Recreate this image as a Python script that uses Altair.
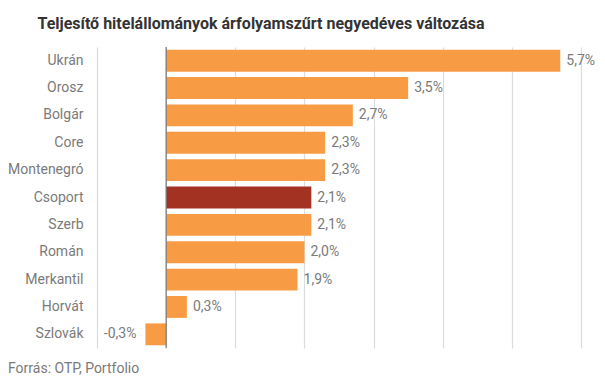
import altair as alt
import pandas as pd

categories = ["Ukrán", "Orosz", "Bolgár", "Core", "Montenegró", "Csoport",
              "Szerb", "Román", "Merkantil", "Horvát", "Szlovák"]
values = [5.7, 3.5, 2.7, 2.3, 2.3, 2.1, 2.1, 2.0, 1.9, 0.3, -0.3]
highlight = ["Csoport"]
grid_ticks = [-1, 0, 1, 2, 3, 4, 5, 6]

df = pd.DataFrame({"cat": categories, "v": values})
df["hl"] = df["cat"].isin(highlight)

font = "Roboto"
label_color = "#7a7a7a"

y_enc = alt.Y("cat:N", sort=categories, title=None,
              scale=alt.Scale(paddingInner=0.2, paddingOuter=0.1),
              axis=alt.Axis(labelFont=font, labelFontSize=14, labelColor=label_color,
                            ticks=False, domain=False, labelPadding=14))
x_scale = alt.Scale(domain=[-1, 6], nice=False)

base = alt.Chart(df)

bars = base.mark_bar().encode(
    x=alt.X("v:Q", scale=x_scale, title=None,
            axis=alt.Axis(values=grid_ticks, labels=False, ticks=False, domain=False,
                          grid=True, gridColor="#dcdcdc", gridWidth=1.2)),
    y=y_enc,
    color=alt.Color("hl:N", scale=alt.Scale(domain=[False, True], range=["#F79C45", "#A33222"]),
                    legend=None),
)

lab_base = base.transform_calculate(
    lbl="replace(replace(format(datum.v, '.1f'), '.', ','), '\u2212', '-') + '%'"
)

labels_pos = lab_base.transform_filter("datum.v >= 0").mark_text(
    font=font, fontSize=14, color=label_color, baseline="middle", align="left", dx=6
).encode(
    x=alt.X("v:Q", scale=x_scale),
    y=alt.Y("cat:N", sort=categories),
    text="lbl:N",
)

labels_neg = lab_base.transform_filter("datum.v < 0").mark_text(
    font=font, fontSize=14, color=label_color, baseline="middle", align="right", dx=-9
).encode(
    x=alt.X("v:Q", scale=x_scale),
    y=alt.Y("cat:N", sort=categories),
    text="lbl:N",
)

zero = alt.Chart(pd.DataFrame({"z": [0]})).mark_rule(color="#777777", strokeWidth=1.2).encode(
    x=alt.X("z:Q", scale=x_scale)
)

source = alt.Chart(pd.DataFrame({"t": ["Forrás: OTP, Portfolio"]})).mark_text(
    font=font, fontSize=14, color=label_color, align="left", baseline="middle"
).encode(x=alt.value(-89), y=alt.value(322), text="t:N")

chart = alt.layer(bars, zero, labels_pos, labels_neg, source).properties(
    width=484, height=301,
    padding={"left": 89, "top": 39, "right": 16, "bottom": 30},
    autosize=alt.AutoSizeParams(type="none"),
    title=alt.TitleParams("Teljesítő hitelállományok árfolyamszűrt negyedéves változása",
                          font=font, fontSize=16, fontWeight="bold", color="#333333",
                          anchor="middle", dx=-78, offset=14),
).configure_view(stroke=None)

chart.save("out.html", embed_options={"renderer": "svg", "actions": False})
